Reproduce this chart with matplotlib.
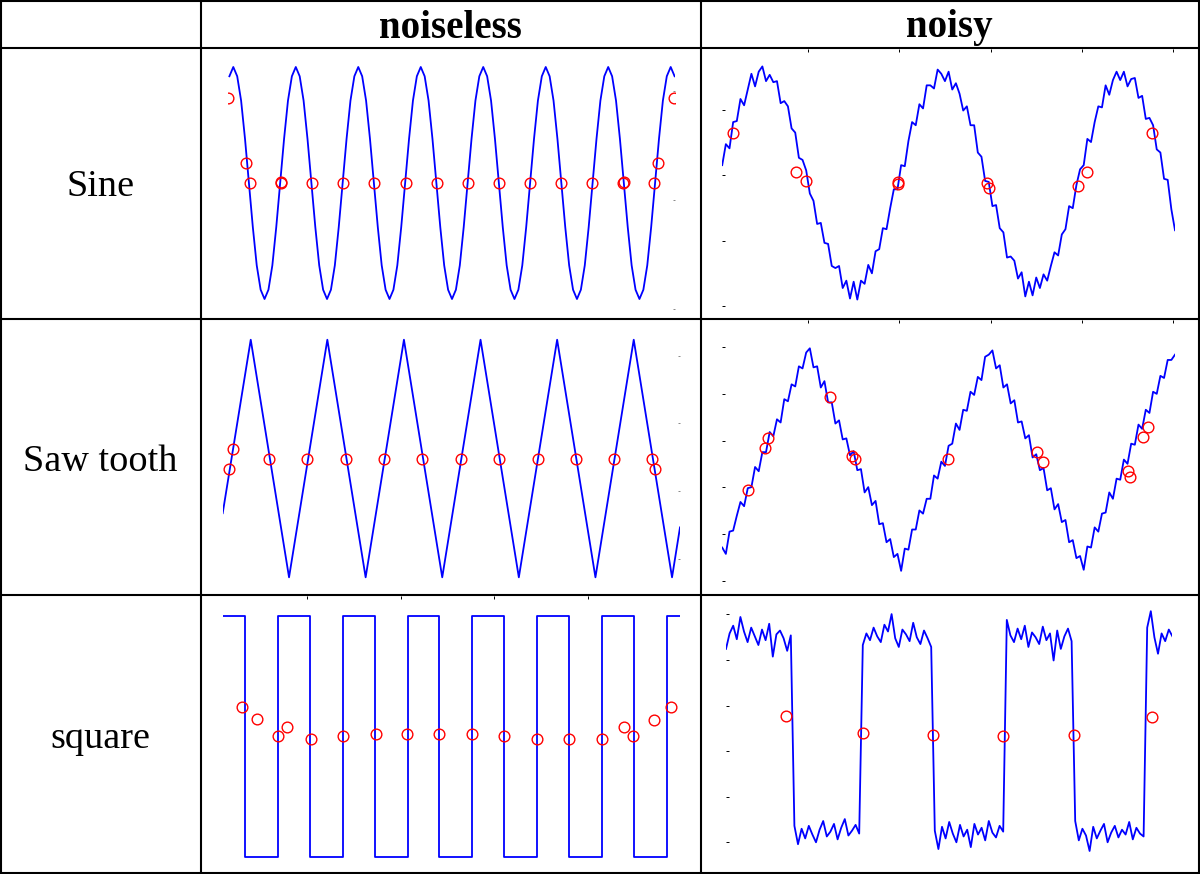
import numpy as np
import matplotlib
matplotlib.use("Agg")
import matplotlib.pyplot as plt
from matplotlib.lines import Line2D

# ---------------- data ----------------
COL_HEADERS = ["noiseless", "noisy"]
ROW_LABELS = ["Sine", "Saw tooth", "square"]

# noiseless sine (one value every 1/16 period)
SINE_CLEAN_V = [
    0.92, 1, 0.92, 0.71, 0.38, 0, -0.38, -0.71, -0.92, -1, -0.92, -0.71, -0.38, 0, 0.38, 0.71,
    0.92, 1, 0.92, 0.71, 0.38, 0, -0.38, -0.71, -0.92, -1, -0.92, -0.71, -0.38, 0, 0.38, 0.71,
    0.92, 1, 0.92, 0.71, 0.38, 0, -0.38, -0.71, -0.92, -1, -0.92, -0.71, -0.38, 0, 0.38, 0.71,
    0.92, 1, 0.92, 0.71, 0.38, 0, -0.38, -0.71, -0.92, -1, -0.92, -0.71, -0.38, 0, 0.38, 0.71,
    0.92, 1, 0.92, 0.71, 0.38, 0, -0.38, -0.71, -0.92, -1, -0.92, -0.71, -0.38, 0, 0.38, 0.71,
    0.92, 1, 0.92, 0.71, 0.38, 0, -0.38, -0.71, -0.92, -1, -0.92, -0.71, -0.38, 0, 0.38, 0.71,
    0.92, 1, 0.92, 0.71, 0.38, 0, -0.38, -0.71, -0.92, -1, -0.92, -0.71, -0.38, 0, 0.38, 0.71,
    0.92, 1, 0.92,
]
SINE_CLEAN_CX = [-0.3, 4.25, 5.25, 13.1, 13.3, 21.2, 29.15, 37.1, 45.1, 53.05, 61.0, 69.0,
                 76.95, 84.9, 92.9, 100.75, 100.95, 108.8, 109.8, 113.8]
SINE_CLEAN_CY = [0.73, 0.17, 0, 0, 0.01, 0, 0, 0, 0, 0, 0, 0,
                 0, 0, 0, 0, 0.01, 0, 0.17, 0.73]

# noisy sine (sample index 6, 10, 14, ...)
SINE_NOISY_V = [
    17, 37, 33, 58, 59, 80, 74, 89, 104, 92,
    106, 111, 97, 103, 96, 97, 76, 78, 73, 52,
    48, 24, 22, 12, -10, -17, -39, -38, -57, -58,
    -79, -81, -79, -100, -93, -110, -94, -111, -93, -96,
    -78, -86, -65, -63, -43, -44, -24, -6, -6, 17,
    16, 40, 58, 55, 75, 71, 93, 93, 90, 108,
    104, 97, 106, 89, 95, 85, 69, 73, 55, 55,
    29, 25, 2, 1, -22, -21, -43, -47, -71, -70,
    -74, -91, -85, -108, -94, -107, -90, -100, -87, -93,
    -79, -66, -69, -49, -44, -22, -24, -2, 13, 17,
    42, 39, 58, 73, 72, 93, 84, 98, 106, 98,
    106, 92, 99, 100, 81, 83, 61, 62, 55, 32,
    29, 4, 3, -25, -45,
]
SINE_NOISY_CX = [18.2, 86.9, 97.8, 198.2, 198.9, 295.7, 297.9, 395.4, 405.9, 476.4]
SINE_NOISY_CY = [47.9, 10.2, 1.9, 1.0, -0.7, 0.0, -4.8, -2.9, 10.2, 47.9]

# noiseless saw tooth (vertices)
TRI_CLEAN_T = [0.134, 0.5, 1.0, 1.5, 2.0, 2.5, 3.0, 3.5, 4.0, 4.5, 5.0, 5.5, 6.0, 6.104]
TRI_CLEAN_V = [-0.46, 1, -1, 1, -1, 1, -1, 1, -1, 1, -1, 1, -1, -0.58]
TRI_CLEAN_CX = [0.265, 0.213, 0.739, 1.239, 1.740, 2.244, 2.740, 3.245, 3.742, 4.247,
                4.743, 5.247, 5.743, 5.778]
TRI_CLEAN_CY = [0.082, -0.086, 0, 0, 0, 0, 0, 0, 0, 0, 0, 0, 0, -0.086]

# noisy saw tooth (sample index 6, 10, 14, ...)
TRI_NOISY_V = [
    -84, -90, -69, -68, -54, -41, -45, -28, -27, -8,
    -12, 6, 6, 25, 21, 37, 34, 56, 54, 70,
    68, 87, 85, 100, 104, 86, 87, 67, 73, 53,
    53, 33, 36, 18, 19, 3, 7, -11, -10, -32,
    -27, -44, -40, -62, -61, -79, -76, -93, -90, -106,
    -85, -86, -67, -67, -49, -52, -38, -38, -16, -19,
    -3, -7, 12, 14, 33, 27, 46, 45, 63, 60,
    77, 74, 96, 98, 102, 85, 88, 67, 70, 52,
    55, 34, 35, 19, 22, 1, 4, -11, -9, -30,
    -28, -48, -43, -60, -58, -79, -77, -94, -92, -105,
    -83, -84, -65, -69, -52, -51, -32, -38, -19, -20,
    -1, -5, 14, 13, 32, 28, 46, 43, 63, 61,
    78, 76, 93, 93, 98,
]
TRI_NOISY_CX = [34.6, 52.9, 56.5, 124.1, 147.9, 151.1, 253.7, 351.2, 357.7, 450.8, 452.7, 466.6, 472.7]
TRI_NOISY_CY = [-30, 9.9, 19.3, 58, 2.6, -0.5, 0, 6.1, -3.3, -12.1, -17.7, 20.3, 29.7]

# noiseless square (edge times, level after edge)
SQ_CLEAN_T = [0, 0.35, 0.86, 1.35, 1.86, 2.35, 2.86, 3.35, 3.86, 4.35, 4.86, 5.35, 5.86, 6.35, 6.86, 7.07]
SQ_CLEAN_V = [1, -1, 1, -1, 1, -1, 1, -1, 1, -1, 1, -1, 1, -1, 1, 1]
SQ_CLEAN_CX = [0.294, 0.535, 0.859, 0.989, 1.365, 1.864, 2.369, 2.844, 3.348, 3.849,
               4.352, 4.853, 5.357, 5.858, 6.202, 6.337, 6.666, 6.929]
SQ_CLEAN_CY = [0.242, 0.145, 0.007, 0.076, -0.021, 0.007, 0.021, 0.021, 0.021, 0.021,
               0.007, -0.021, -0.021, -0.021, 0.076, 0.007, 0.137, 0.242]

# noisy square (sample index 0, 4, 8, ...)
SQ_NOISY_V = [
    88, 104, 112, 98, 121, 106, 95, 110, 101, 92, 108, 97, 114, 80, 103, 107, 99, 86, 102,
    -95, -114, -98, -108, -95, -104, -112, -99, -90, -106, -101, -93, -109, -97, -88, -105, -100, -94, -103,
    92, 104, 97, 110, 101, 95, 113, 106, 124, 99, 90, 108, 103, 96, 115, 100, 93, 107, 99, 90,
    -100, -119, -96, -108, -91, -103, -112, -94, -106, -99, -117, -93, -104, -97, -110, -90, -102, -107, -95, -101,
    118, 102, 95, 109, 98, 112, 90, 105, 100, 93, 111, 97, 104, 76, 107, 88, 101, 109, 96,
    -90, -110, -98, -105, -121, -96, -108, -100, -93, -112, -102, -95, -107, -99, -104, -91, -109, -97, -103, -106,
    110, 127, 100, 83, 104, 96, 108, 101,
]
SQ_NOISY_CX = [66.7, 151.9, 230.3, 308.1, 386.7, 473.0]
SQ_NOISY_CY = [18.3, 0.7, -1.0, -2.4, -1.0, 17.3]

# ---------------- layout ----------------
W, H = 1200, 874
fig = plt.figure(figsize=(W / 100, H / 100), dpi=100)
fig.patch.set_facecolor("white")

BLUE = "#0000ff"
RED = "#ff0000"
LW = 1.3
SERIF = ["Liberation Serif", "DejaVu Serif"]


def px_axes(x0, x1, y0, y1):
    return fig.add_axes([x0 / W, 1 - y1 / H, (x1 - x0) / W, (y1 - y0) / H])


def setup(ax, xlim, ylim):
    ax.set_xlim(*xlim)
    ax.set_ylim(*ylim)
    for s in ax.spines.values():
        s.set_visible(False)
    ax.patch.set_visible(False)
    ax.set_xticks([])
    ax.set_yticks([])
    ax.tick_params(which="both", direction="in", length=2.2, width=0.7, color="black",
                   labelleft=False, labelbottom=False, labeltop=False, labelright=False,
                   left=False, right=False, top=False, bottom=False)


def circles(ax, cx, cy):
    ax.plot(cx, cy, linestyle="none", marker="o", mfc="none", mec=RED, ms=7.7, mew=1.0)


# grid lines
def hline(y, x0, x1):
    fig.add_artist(Line2D([x0 / W, x1 / W], [1 - y / H, 1 - y / H], transform=fig.transFigure,
                          color="black", lw=1.5, solid_capstyle="projecting"))


def vline(x, y0, y1):
    fig.add_artist(Line2D([x / W, x / W], [1 - y0 / H, 1 - y1 / H], transform=fig.transFigure,
                          color="black", lw=1.5, solid_capstyle="projecting"))


for y in [1, 48, 318.5, 594.5, 872.5]:
    hline(y, 1, 1198.5)
for x in [1, 200.5, 700.5, 1198.5]:
    vline(x, 1, 872.5)

# headers and row labels
for txt, xc in zip(COL_HEADERS, [450.5, 949.5]):
    fig.text(xc / W, 1 - 28 / H, txt, ha="center", va="center", fontsize=28,
             fontweight="bold", family=SERIF)
for txt, yc in zip(ROW_LABELS, [187, 462, 739]):
    fig.text(100.5 / W, 1 - yc / H, txt, ha="center", va="center", fontsize=27.5, family=SERIF)

# ---- Sine, noiseless ----
ax = px_axes(228.3, 674.6, 49, 317)
setup(ax, (-0.28, 114), (-1.155, 1.155))
ax.plot(np.arange(len(SINE_CLEAN_V)), SINE_CLEAN_V, color=BLUE, lw=LW)
circles(ax, SINE_CLEAN_CX, SINE_CLEAN_CY)
ax.set_yticks([0.79, -0.147, -1.084])
ax.tick_params(axis="y", right=True, length=1.2, color="#888888")

# ---- Sine, noisy ----
ax = px_axes(722.2, 1175.0, 49, 317)
setup(ax, (6, 502), (-127.6, 127.6))
ax.plot(6 + 4 * np.arange(len(SINE_NOISY_V)), SINE_NOISY_V, color=BLUE, lw=LW)
circles(ax, SINE_NOISY_CX, SINE_NOISY_CY)
ax.set_yticks([69.2, 7.3, -55.5, -117.4])
ax.set_xticks([100, 200, 300, 400, 500])
ax.tick_params(left=True, top=True)

# ---- Saw tooth, noiseless ----
ax = px_axes(222.7, 680.0, 320, 593)
setup(ax, (0.134, 6.104), (-1.132, 1.166))
ax.plot(TRI_CLEAN_T, TRI_CLEAN_V, color=BLUE, lw=LW)
circles(ax, TRI_CLEAN_CX, TRI_CLEAN_CY)
ax.set_yticks([0.860, 0.299, -0.276, -0.843])
ax.tick_params(axis="y", right=True, length=1.2, color="#888888")

# ---- Saw tooth, noisy ----
ax = px_axes(722.2, 1175.0, 320, 593)
setup(ax, (6, 502), (-126.9, 130.7))
ax.plot(6 + 4 * np.arange(len(TRI_NOISY_V)), TRI_NOISY_V, color=BLUE, lw=LW)
circles(ax, TRI_NOISY_CX, TRI_NOISY_CY)
ax.set_yticks([104.9, 60.8, 16.8, -27.2, -71.2, -115.3])
ax.set_xticks([100, 200, 300, 400, 500])
ax.tick_params(left=True, top=True)

# ---- square, noiseless ----
ax = px_axes(222.7, 680.1, 596, 871)
setup(ax, (0, 7.07), (-1.113, 1.163))
ax.plot(SQ_CLEAN_T, SQ_CLEAN_V, color=BLUE, lw=LW, drawstyle="steps-post")
circles(ax, SQ_CLEAN_CX, SQ_CLEAN_CY)
ax.set_xticks([1.308, 2.756, 4.193, 5.651])
ax.tick_params(top=True)

# ---- square, noisy ----
ax = px_axes(726.0, 1172.4, 596, 871)
setup(ax, (0, 496), (-141.7, 142.7))
ax.plot(4 * np.arange(len(SQ_NOISY_V)), SQ_NOISY_V, color=BLUE, lw=LW)
circles(ax, SQ_NOISY_CX, SQ_NOISY_CY)
ax.set_yticks([124.1, 76.8, 29.3, -17.9, -64.8, -112.0])
ax.tick_params(left=True)

fig.savefig("out.png", dpi=100, facecolor="white")
